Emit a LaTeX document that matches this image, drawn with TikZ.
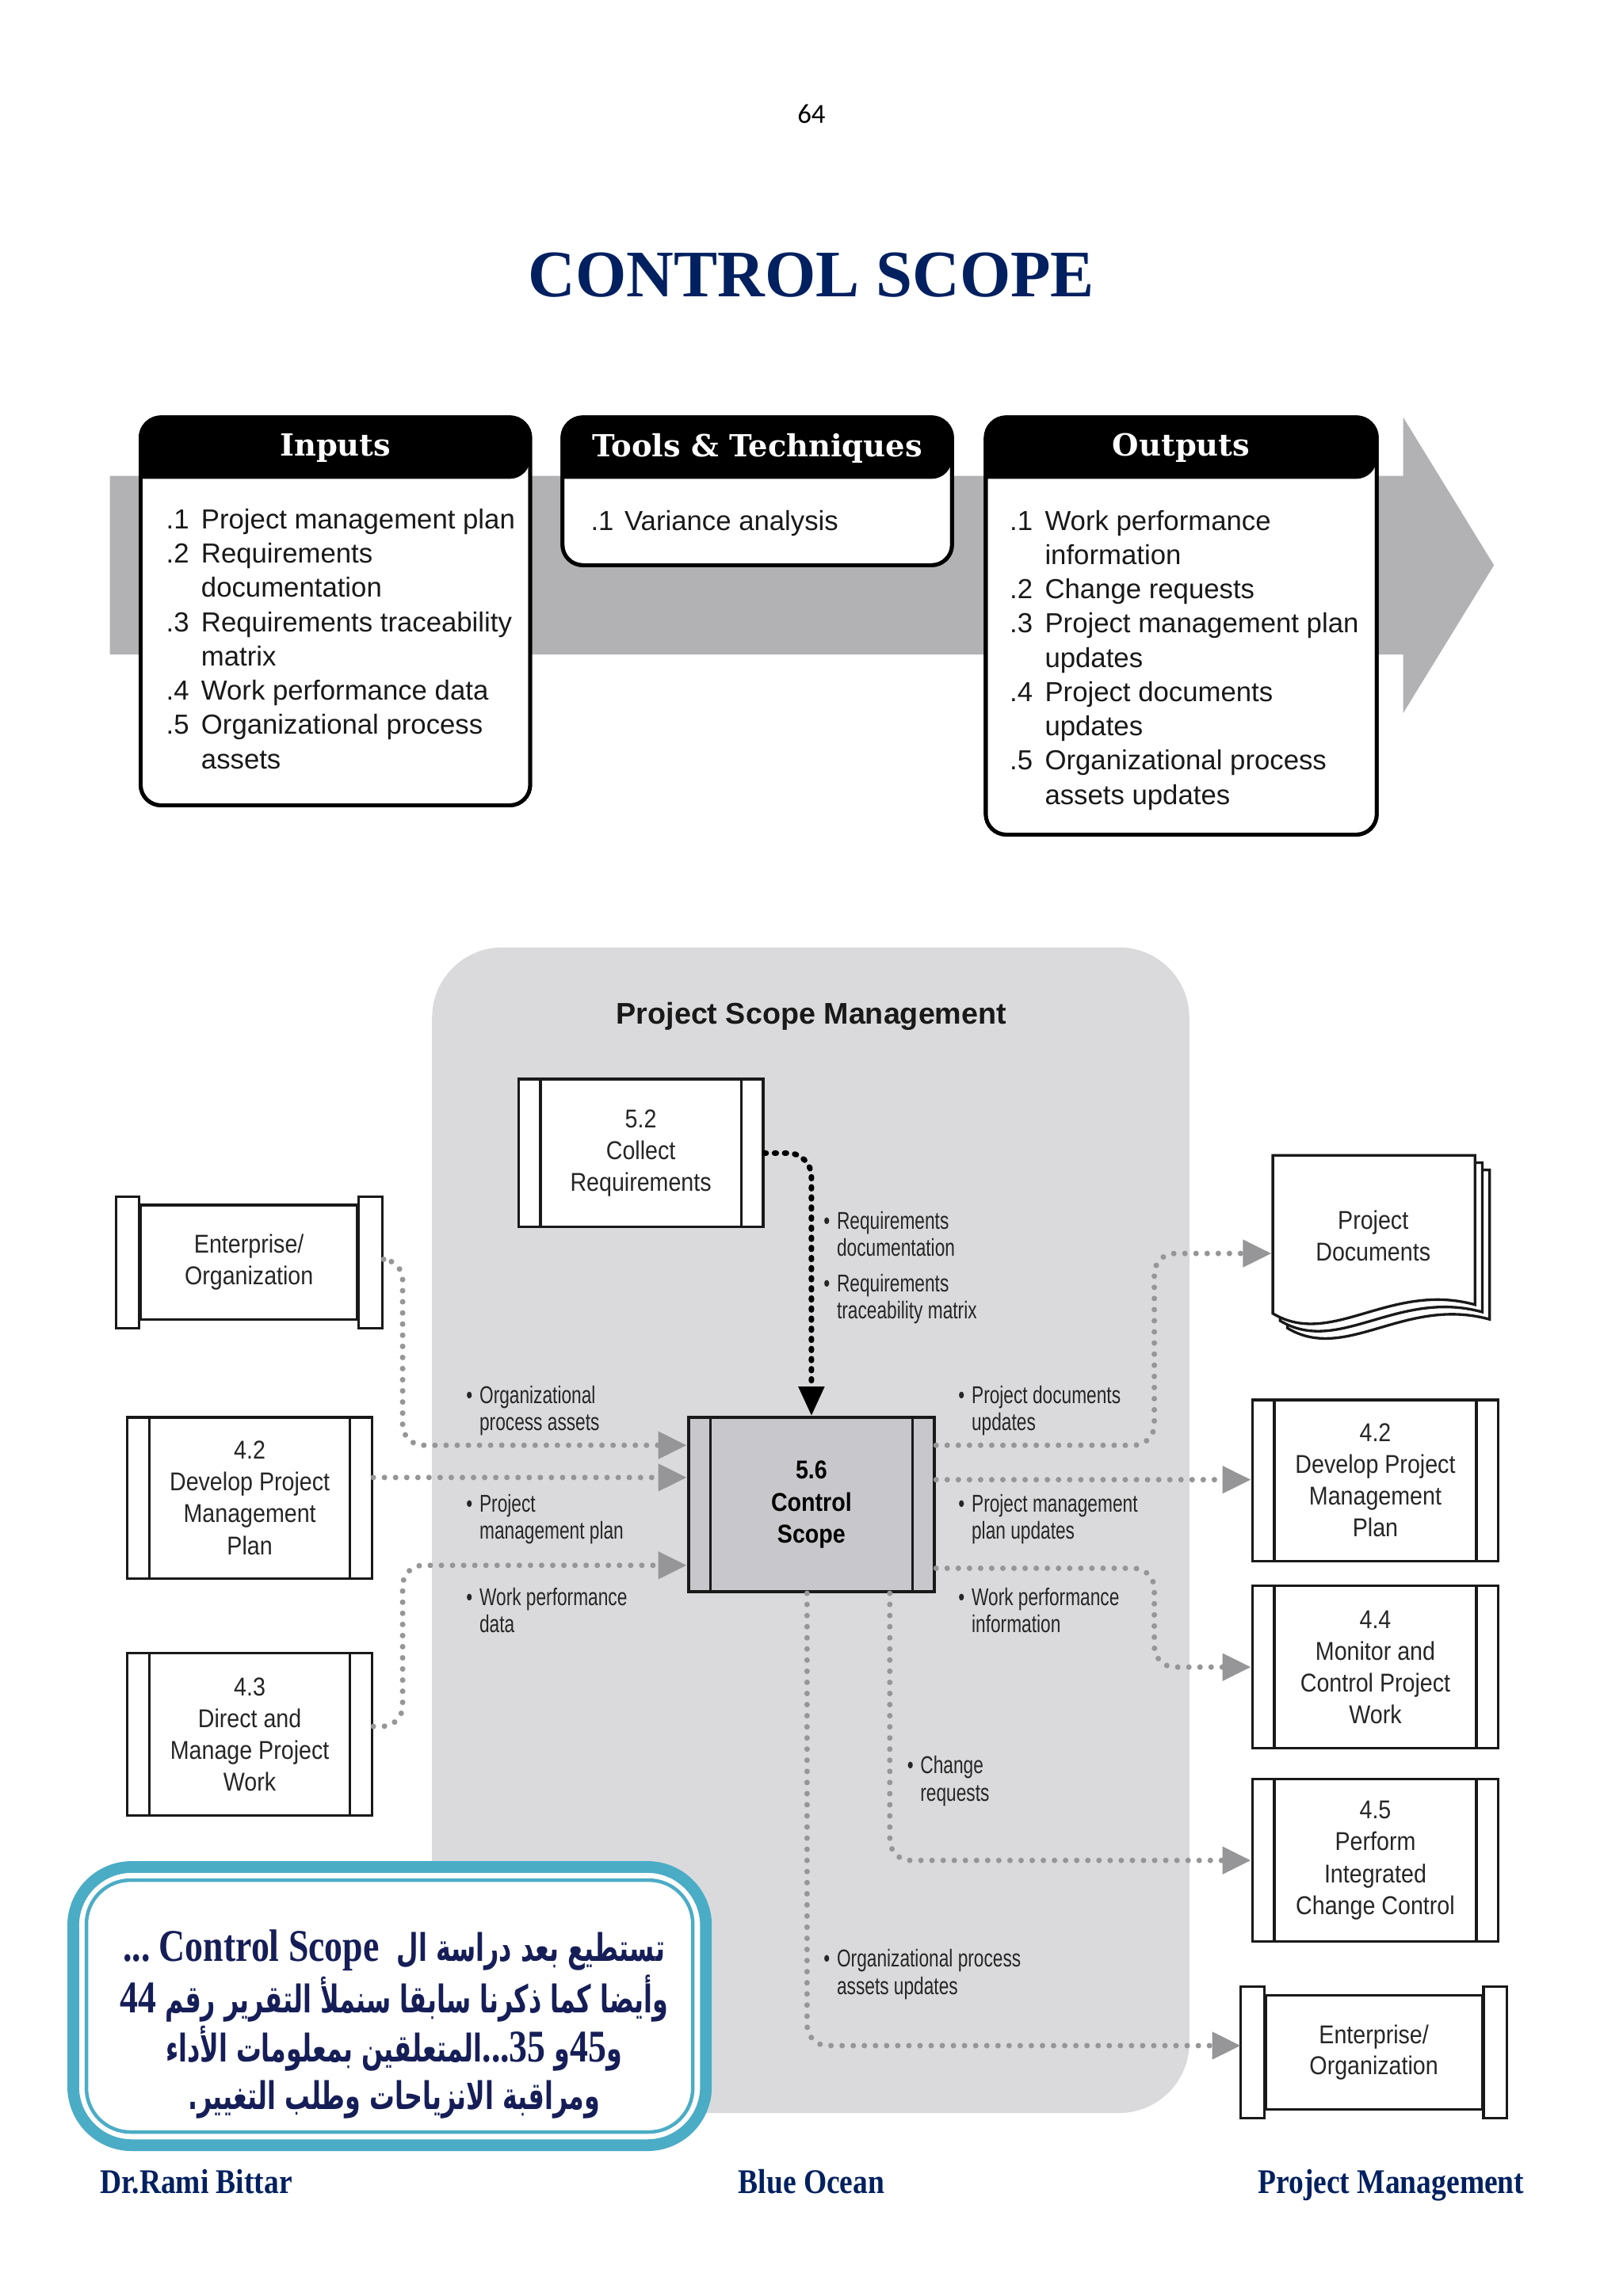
\documentclass[tikz,border=0pt]{standalone}
\usepackage{fontspec}
\setmainfont{Liberation Serif}
\newfontfamily\titlefont[FakeStretch=0.985]{Liberation Serif}
\newfontfamily\footfont[FakeStretch=0.86]{Liberation Serif}
\newfontfamily\calllatin[FakeStretch=0.8]{Liberation Serif}
\newfontfamily\hdfont{DejaVu Serif}
\newfontfamily\listfont{Liberation Sans}
\newfontfamily\boxfont[FakeStretch=0.88]{Liberation Sans}
\newfontfamily\lblfont[FakeStretch=0.74]{Liberation Sans}
\newfontfamily\pnfont{Carlito}
\newfontfamily\arabicfont[Script=Arabic,FakeStretch=0.66]{DejaVu Sans}
\TeXXeTstate=1
\usetikzlibrary{arrows.meta,calc}
\definecolor{navy}{RGB}{0,32,96}
\definecolor{arnavy}{RGB}{22,30,88}
\definecolor{bandgray}{RGB}{178,178,180}
\definecolor{psmgray}{RGB}{218,218,220}
\definecolor{ctrlgray}{RGB}{200,200,204}
\definecolor{dotgray}{RGB}{150,150,152}
\definecolor{aqua}{RGB}{75,172,198}
\newcommand{\cl}{\calllatin\bfseries\fontsize{15.5}{17}\selectfont}
\begin{document}
\begin{tikzpicture}[x=0.5pt,y=-0.5pt,
  topbox/.style={draw=black, line width=1.3pt, rounded corners=7pt},
  hdtxt/.style={text=white, inner sep=0, font=\hdfont\bfseries\fontsize{10.4}{12}\selectfont},
  listtxt/.style={anchor=north west, inner sep=0, text=black!90, font=\listfont\fontsize{9.4}{11.7}\selectfont},
  proc/.style={draw=black!90, line width=0.9pt, fill=white, inner sep=0, align=center, text=black!85,
    font=\boxfont\fontsize{8.8}{10.85}\selectfont,
    path picture={\draw[line width=0.9pt, draw=black!90]
      ($(path picture bounding box.north west)+(15,0)$) -- ($(path picture bounding box.south west)+(15,0)$)
      ($(path picture bounding box.north east)+(-15,0)$) -- ($(path picture bounding box.south east)+(-15,0)$);}},
  scroll/.style={draw=black!90, line width=0.9pt, fill=white, inner sep=0, align=center, text=black!85,
    font=\boxfont\fontsize{8.8}{10.6}\selectfont, minimum width=74pt, minimum height=39pt},
  capst/.style={draw=black!90, line width=0.9pt, fill=white},
  lbl/.style={anchor=north west, inner sep=0, text=black!85, font=\lblfont\fontsize{8.3}{9.25}\selectfont},
  gcon/.style={draw=dotgray, line width=1.9pt, line cap=round, dash pattern=on 0pt off 3.8pt,
    rounded corners=7pt, -{Triangle[length=9.75pt,width=9pt]}},
  bcon/.style={draw=black, line width=1.9pt, line cap=round, dash pattern=on 0.6pt off 2.85pt,
    rounded corners=8pt, -{Triangle[length=10pt,width=8.5pt]}},
  foot/.style={text=navy, inner sep=0, font=\footfont\bfseries\fontsize{11.8}{14}\selectfont},
  ar/.style={text=arnavy, inner sep=0, font=\arabicfont\bfseries\fontsize{13}{15}\selectfont},
]
\useasboundingbox (0,0) rectangle (1108,1568);
\fill[white] (0,0) rectangle (1108,1568);

% page number and title
\node[anchor=base, inner sep=0, font=\pnfont\fontsize{9.4}{11}\selectfont] (pg) at (554,84) {64};
\node[anchor=base, inner sep=0, text=navy, font=\titlefont\bfseries\fontsize{22.7}{26}\selectfont] (title) at (554,202.4) {CONTROL SCOPE};

% ===== ITTO banner =====
\fill[bandgray] (75,325) -- (958,325) -- (958,285) -- (1020,386) -- (958,487) -- (958,447) -- (75,447) -- cycle;

% Inputs
\draw[topbox, fill=white] (96,285) rectangle (362,550);
\fill[black] (96,327) [rounded corners=7pt] |- (229,285) -| (362,327) [sharp corners] -- cycle;
\draw[topbox] (96,285) rectangle (362,550);
\node[hdtxt] (hin) at (229,306) {Inputs};
\node[listtxt] (lin) at (113,344.3) {\begin{tabular}{@{}p{12pt}@{}l@{}}
.1 & Project management plan\\
.2 & Requirements\\
   & documentation\\
.3 & Requirements traceability\\
   & matrix\\
.4 & Work performance data\\
.5 & Organizational process\\
   & assets
\end{tabular}};

% Tools & Techniques
\draw[topbox, fill=white] (384,285) rectangle (650,386);
\fill[black] (384,327) [rounded corners=7pt] |- (517,285) -| (650,327) [sharp corners] -- cycle;
\draw[topbox] (384,285) rectangle (650,386);
\node[hdtxt] (htt) at (517,306) {Tools \& Techniques};
\node[listtxt] (ltt) at (403,345.3) {\begin{tabular}{@{}p{11.5pt}@{}l@{}}
.1 & Variance analysis
\end{tabular}};

% Outputs
\draw[topbox, fill=white] (673,285) rectangle (940,570);
\fill[black] (673,327) [rounded corners=7pt] |- (806.5,285) -| (940,327) [sharp corners] -- cycle;
\draw[topbox] (673,285) rectangle (940,570);
\node[hdtxt] (hout) at (806.5,306) {Outputs};
\node[listtxt] (lout) at (689,345.3) {\begin{tabular}{@{}p{12pt}@{}l@{}}
.1 & Work performance\\
   & information\\
.2 & Change requests\\
.3 & Project management plan\\
   & updates\\
.4 & Project documents\\
   & updates\\
.5 & Organizational process\\
   & assets updates
\end{tabular}};

% ===== Data flow diagram =====
\fill[psmgray, rounded corners=24pt] (295,647) rectangle (812,1443);
\node[inner sep=0, text=black!90, font=\listfont\bfseries\fontsize{10.2}{12}\selectfont] (psm) at (554,694) {Project Scope Management};

\node[proc, minimum width=83.5pt, minimum height=50.5pt] (c52) at (437.5,787.5) {5.2\\Collect\\Requirements};
\node[proc, fill=ctrlgray, line width=1.1pt, minimum width=84pt, minimum height=59.5pt, text=black,
  font=\boxfont\bfseries\fontsize{8.8}{10.85}\selectfont] (c56) at (554,1027.5) {5.6\\Control\\Scope};

\node[proc, minimum width=83.5pt, minimum height=55pt] (p42L) at (170.5,1023) {4.2\\Develop Project\\Management\\Plan};
\node[proc, minimum width=83.5pt, minimum height=55.5pt] (p43) at (170.5,1184.5) {4.3\\Direct and\\Manage Project\\Work};
\node[proc, minimum width=84pt, minimum height=55pt] (p42R) at (939,1011) {4.2\\Develop Project\\Management\\Plan};
\node[proc, minimum width=84pt, minimum height=55.5pt] (p44) at (939,1138.5) {4.4\\Monitor and\\Control Project\\Work};
\node[proc, minimum width=84pt, minimum height=55.5pt] (p45) at (939,1270.5) {4.5\\Perform\\Integrated\\Change Control};

% Enterprise / Organization scrolls
\node[scroll] (entL) at (170,862) {Enterprise/\\Organization};
\node[scroll] (entR) at (938,1401.5) {Enterprise/\\Organization};
\foreach \n in {entL,entR}{
  \draw[capst] ($(\n.north west)+(-16,-5)$) rectangle ($(\n.south west)+(0,5)$);
  \draw[capst] ($(\n.north east)+(0,-5)$) rectangle ($(\n.south east)+(16,5)$);
}

% Project documents stack
\coordinate (dk) at (869,789);
\foreach \d in {10,5,0}{
  \draw[draw=black!90, line width=0.9pt, fill=white]
    ($(dk)+(\d,\d)$) -- ($(dk)+(\d+138,\d)$) -- ($(dk)+(\d+138,\d+102)$)
    .. controls ($(dk)+(\d+80,\d+86)$) and ($(dk)+(\d+40,\d+132)$) .. ($(dk)+(\d,\d+108)$) -- cycle;
}
\node[inner sep=0, align=center, text=black!85, font=\boxfont\fontsize{8.8}{10.85}\selectfont,
  minimum width=69pt, minimum height=55pt] (docs) at ($(dk)+(68.5,55)$) {Project\\Documents};

% connectors
\draw[bcon] (c52.east) -| (c56.north);
\draw[gcon] ($(entL.east)+(17,-2)$) -| ($(c56.west)+(-194,-40.5)$) -- ($(c56.west)+(0,-40.5)$);
\draw[gcon] ($(p42L.east)+(0,-14)$) -- ($(c56.west)+(0,-18.5)$);
\draw[gcon] ($(p43.east)+(0,-5.5)$) -| ($(c56.west)+(-194,41.5)$) -- ($(c56.west)+(0,41.5)$);
\draw[gcon] ($(c56.east)+(0,-40.5)$) -| ($(docs.west)+(-80,12)$) -- ($(docs.west)+(0,12)$);
\draw[gcon] ($(c56.east)+(0,-17)$) -- ($(p42R.west)+(0,-0.5)$);
\draw[gcon] ($(c56.east)+(0,43.5)$) -| ($(p44.west)+(-66,0)$) -- (p44.west);
\draw[gcon] ($(c56.south)+(53.5,0)$) |- (p45.west);
\draw[gcon] ($(c56.south)+(-3,0)$) |- ($(entR.west)+(-16,-4.5)$);

% labels
\node[lbl] (l1) at (562,826) {\begin{tabular}{@{}p{4.5pt}@{}l@{}}•&Requirements\\&documentation\end{tabular}};
\node[lbl] (l2) at (562,869) {\begin{tabular}{@{}p{4.5pt}@{}l@{}}•&Requirements\\&traceability matrix\end{tabular}};
\node[lbl] (l3) at (318,945) {\begin{tabular}{@{}p{4.5pt}@{}l@{}}•&Organizational\\&process assets\end{tabular}};
\node[lbl] (l4) at (318,1019) {\begin{tabular}{@{}p{4.5pt}@{}l@{}}•&Project\\&management plan\end{tabular}};
\node[lbl] (l5) at (318,1083) {\begin{tabular}{@{}p{4.5pt}@{}l@{}}•&Work performance\\&data\end{tabular}};
\node[lbl] (l6) at (654,945) {\begin{tabular}{@{}p{4.5pt}@{}l@{}}•&Project documents\\&updates\end{tabular}};
\node[lbl] (l7) at (654,1019) {\begin{tabular}{@{}p{4.5pt}@{}l@{}}•&Project management\\&plan updates\end{tabular}};
\node[lbl] (l8) at (654,1083) {\begin{tabular}{@{}p{4.5pt}@{}l@{}}•&Work performance\\&information\end{tabular}};
\node[lbl] (l9) at (619,1198) {\begin{tabular}{@{}p{4.5pt}@{}l@{}}•&Change\\&requests\end{tabular}};
\node[lbl] (l10) at (562,1330) {\begin{tabular}{@{}p{4.5pt}@{}l@{}}•&Organizational process\\&assets updates\end{tabular}};

% ===== Arabic callout =====
\draw[aqua, line width=4pt, fill=white, rounded corners=20pt] (50,1275) rectangle (482,1465);
\draw[aqua, line width=1.2pt, rounded corners=15pt] (59,1284) rectangle (473,1456);
\node[ar] (ar1) at (269,1332) {\beginR تستطيع بعد دراسة ال\ \ \hbox{\cl\beginL Control Scope\endL{}} \hbox{\cl ...}\endR};
\node[ar] (ar2) at (269,1365) {\beginR وأيضا كما ذكرنا سابقا سنملأ التقرير رقم \hbox{\cl 44}\endR};
\node[ar] (ar3) at (269,1399) {\beginR \hbox{و}\hbox{\cl 45}\hbox{و} \hbox{\cl 35}\hbox{\cl ...}المتعلقين بمعلومات الأداء\endR};
\node[ar] (ar4) at (269,1434) {\beginR ومراقبة الانزياحات وطلب \hbox{التغيير}\hbox{.}\endR};

% footer
\node[foot, anchor=base west] (f1) at (68,1498) {Dr.Rami Bittar};
\node[foot, anchor=base] (f2) at (554,1498) {Blue Ocean};
\node[foot, anchor=base east] (f3) at (1041,1498) {Project Management};
\end{tikzpicture}
\end{document}
